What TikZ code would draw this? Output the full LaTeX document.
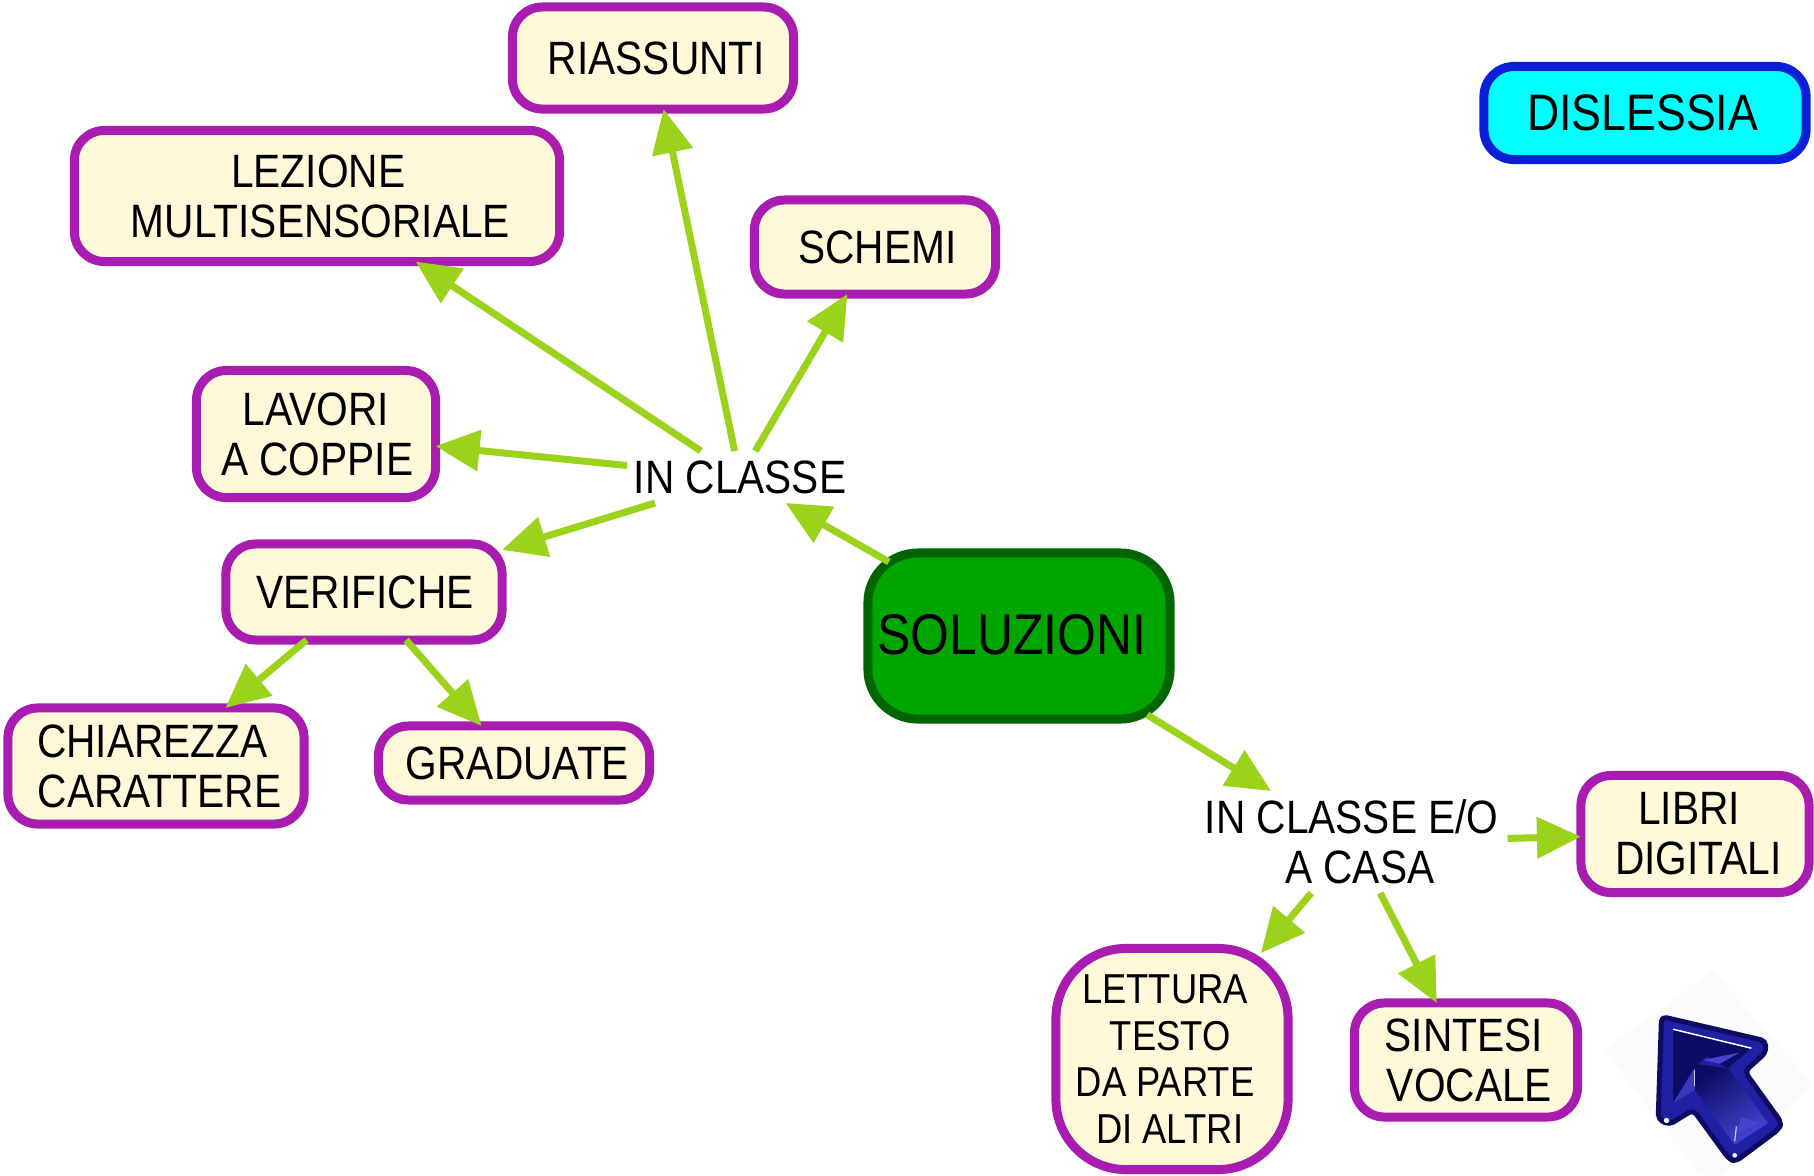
\documentclass[tikz,border=0pt]{standalone}
\usepackage{fontspec}
\setmainfont[FakeStretch=0.87]{Liberation Sans}
\usetikzlibrary{arrows.meta}
\definecolor{arrowgreen}{HTML}{9BD31C}
\definecolor{boxpurple}{HTML}{A81CB0}
\definecolor{boxcream}{HTML}{FFF9DA}
\definecolor{rootedge}{HTML}{006400}
\definecolor{rootfill}{HTML}{00A500}
\definecolor{titleedge}{HTML}{0A1FD8}
\definecolor{titlefill}{HTML}{00FFFF}
\newlength\nudgeunit
\setlength\nudgeunit{0.0231cm}
\newcommand\nudge[1]{\hspace*{#1\nudgeunit}}
\tikzset{
  box/.style={draw=boxpurple,fill=boxcream,line width=0.09cm,rounded corners=0.3cm,inner sep=0pt,outer sep=0pt,align=center,font=\fontsize{13.3}{14.2}\selectfont,text=black},
  plaintext/.style={inner sep=0pt,outer sep=0pt,align=center,font=\fontsize{13.3}{14.2}\selectfont,text=black},
  root/.style={draw=rootedge,fill=rootfill,line width=0.09cm,rounded corners=0.5cm,inner sep=0pt,outer sep=0pt,font=\fontsize{16.3}{18}\selectfont,text=black},
  titlebox/.style={draw=titleedge,fill=titlefill,line width=0.09cm,rounded corners=0.3cm,inner sep=0pt,outer sep=0pt,font=\fontsize{14.6}{16}\selectfont,text=black},
  link/.style={draw=arrowgreen,line width=0.07cm,-{Triangle[length=0.44cm,width=0.4cm]}},
}
\begin{document}
\begin{tikzpicture}[x=0.01cm,y=-0.01cm]
\useasboundingbox (0,0) rectangle (1814,1175);
\fill[white] (0,0) rectangle (1814,1175);
% boxes
\node[box,minimum width=2.81cm,minimum height=1.02cm] (riass) at (653,58) {\nudge{3}RIASSUNTI};
\node[box,minimum width=4.85cm,minimum height=1.31cm] (lez) at (317,196) {\nudge{1}LEZIONE\\\nudge{3}MULTISENSORIALE};
\node[box,minimum width=2.41cm,minimum height=0.94cm] (schemi) at (875,247) {\nudge{2}SCHEMI};
\node[titlebox,minimum width=3.22cm,minimum height=0.93cm] (dis) at (1645,113) {\nudge{-2}DISLESSIA};
\node[box,minimum width=2.39cm,minimum height=1.27cm] (lav) at (316,434) {LAVORI\\\nudge{1}A COPPIE};
\node[box,minimum width=2.76cm,minimum height=0.96cm] (ver) at (364,592) {\nudge{1}VERIFICHE};
\node[box,minimum width=2.96cm,minimum height=1.16cm] (chia) at (156,766) {\nudge{-3}CHIAREZZA\\\nudge{3}CARATTERE};
\node[box,minimum width=2.71cm,minimum height=0.74cm] (grad) at (514,763) {\nudge{3}GRADUATE};
\node[root,minimum width=3.02cm,minimum height=1.66cm] (sol) at (1019,636) {\nudge{-6}\raisebox{0.03cm}{SOLUZIONI}};
\node[plaintext,minimum width=2.26cm,minimum height=0.52cm] (incl) at (740,477) {IN CLASSE};
\node[plaintext,minimum width=3.07cm,minimum height=1.02cm] (casa) at (1354,842) {\nudge{-2}IN CLASSE E/O\\\nudge{5}A CASA};
\node[box,minimum width=2.28cm,minimum height=1.17cm] (libri) at (1695,834) {\nudge{-5}LIBRI\\\nudge{3}DIGITALI};
\node[box,rounded corners=0.7cm,minimum width=2.32cm,minimum height=2.21cm,font=\fontsize{11.9}{13.2}\selectfont] (lett) at (1172,1059) {\nudge{-6}LETTURA\\\nudge{-1.5}TESTO\\\nudge{-6}DA PARTE\\\nudge{-2}DI ALTRI};
\node[box,minimum width=2.23cm,minimum height=1.14cm] (sint) at (1466,1060) {\nudge{-2}SINTESI\\\nudge{3}VOCALE};
% connectors
\draw[link,shorten <=-0.18cm] (sol) -- (incl);
\draw[link,shorten <=-0.08cm] (sol) -- (casa);
\draw[link] (incl) -- (riass);
\draw[link] (incl) -- (lez);
\draw[link] (incl) -- (schemi);
\draw[link] (incl) -- (lav);
\draw[link] (incl) -- (ver);
\draw[link] (ver) -- (chia);
\draw[link] (ver) -- (grad);
\draw[link] (casa) -- (libri);
\draw[link,shorten >=-0.06cm] (casa) -- (lett);
\draw[link] (casa) -- (sint);
% cursor picture
\fill[black!1.5] (1605,1050) -- (1713,970) -- (1813,1085) -- (1722,1175) -- (1700,1175) -- cycle;
\begin{scope}[shift={(1560,960)},x=0.003333cm,y=-0.003333cm]
\definecolor{navyrim}{HTML}{2020A4}
\definecolor{navydark}{HTML}{0C0C64}
\definecolor{navylight}{HTML}{4444D0}
\draw[draw=navydark,fill=navyrim,line width=0.05cm,line join=round,rounded corners=0.05cm]
  (305,170) -- (618,243) -- (618,278) -- (555,335) -- (665,488) -- (658,508) -- (528,605) -- (508,598) -- (400,450) -- (328,495) -- (295,478) -- cycle;
\fill[navydark] (340,210) -- (575,265) -- (440,290) -- (405,320) -- (340,430) -- cycle;
\fill[navydark] (575,265) -- (505,325) -- (440,290) -- cycle;
\shade[left color=navydark,right color=navylight,shading angle=35] (405,312) -- (505,325) -- (625,490) -- (525,555) -- (405,390) -- cycle;
\fill[navylight] (430,300) -- (540,278) -- (480,312) -- cycle;
\fill[navylight] (545,472) -- (600,490) -- (530,522) -- cycle;
\fill[navylight!80!navydark] (340,430) -- (405,325) -- (405,390) -- cycle;
\draw[white,line width=0.015cm] (340,208) -- (575,265);
\draw[white!70!navylight,line width=0.012cm] (405,330) -- (405,380);
\draw[white!70!navylight,line width=0.012cm] (530,500) -- (525,545);
\fill[white] (320,482) circle (8);
\fill[white] (525,587) circle (7);
\end{scope}
\end{tikzpicture}
\end{document}
